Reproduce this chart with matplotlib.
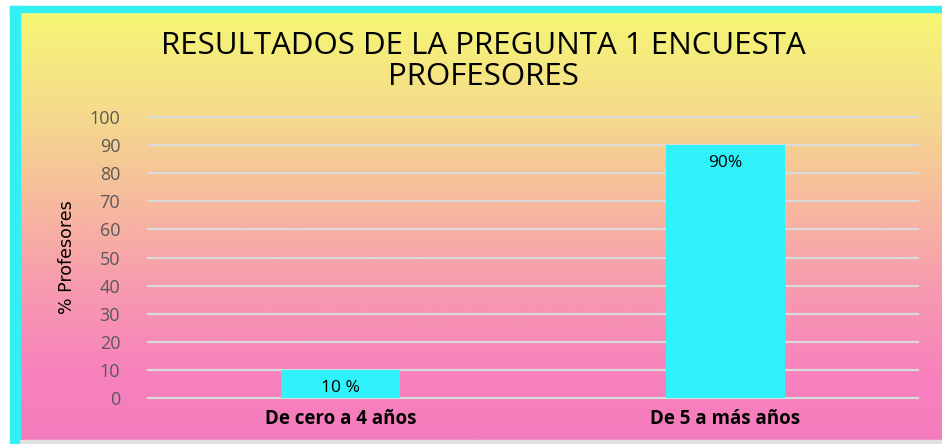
import numpy as np
import matplotlib
matplotlib.use("Agg")
import matplotlib.pyplot as plt
from matplotlib.colors import LinearSegmentedColormap
from matplotlib.patches import Rectangle

categorias = ["De cero a 4 años", "De 5 a más años"]
valores = [10, 90]
etiquetas = ["10 %", "90%"]
yticks = [0, 10, 20, 30, 40, 50, 60, 70, 80, 90, 100]

W, H = 942, 444
fig = plt.figure(figsize=(W / 100, H / 100), dpi=100)
fig.patch.set_facecolor("white")

# fondo degradado amarillo -> rosa
bg = fig.add_axes([0, 0, 1, 1])
bg.set_xlim(0, W)
bg.set_ylim(H, 0)
bg.axis("off")
cmap = LinearSegmentedColormap.from_list(
    "fondo",
    [(0.0, "#F6F773"), (0.25, "#F5D98E"), (0.45, "#F7B99E"),
     (0.65, "#F79AB0"), (0.85, "#F781BD"), (1.0, "#F67DBE")])
grad = np.linspace(0, 1, 256).reshape(-1, 1)
bg.imshow(grad, cmap=cmap, aspect="auto", extent=(20, W, 440, 12), zorder=0)
bg.add_patch(Rectangle((10, 6), 10, 438, color="#33F0F5", zorder=1))
bg.add_patch(Rectangle((10, 6), W - 10, 6, color="#33F0F5", zorder=1))
bg.add_patch(Rectangle((20, 440), W - 20, 4, color="#E0E0E0", zorder=1))

bg.text(483, 46, "RESULTADOS DE LA PREGUNTA 1 ENCUESTA", ha="center", va="center",
        fontsize=22.5, family="Open Sans", color="black")
bg.text(483, 77, "PROFESORES", ha="center", va="center",
        fontsize=22.5, family="Open Sans", color="black")

ax = fig.add_axes([148 / W, 46 / H, 770 / W, 281 / H])
ax.patch.set_alpha(0)
x = np.arange(len(categorias))
bars = ax.bar(x, valores, width=0.31, color="#30F2FA", zorder=3)
ax.set_xlim(-0.5, 1.5)
ax.set_ylim(0, 100)
ax.set_yticks(yticks)
ax.yaxis.grid(True, color="#DADADA", linewidth=1.6, zorder=1)
for gl in ax.get_ygridlines():
    gl.set_clip_on(False)
ax.set_axisbelow(True)
for s in ax.spines.values():
    s.set_visible(False)
ax.tick_params(length=0)
ax.tick_params(axis="y", pad=20, labelsize=13, labelcolor="#595959")
ax.set_yticklabels([str(t) for t in yticks], family="Open Sans")
ax.set_xticks(x)
ax.set_xticklabels(categorias, fontsize=13.5, fontweight="bold", family="Open Sans")
ax.tick_params(axis="x", pad=8)
ax.set_ylabel("% Profesores", fontsize=12.5, family="Liberation Sans Narrow", labelpad=10)

for b, lab in zip(bars, etiquetas):
    ax.text(b.get_x() + b.get_width() / 2, b.get_height() - 6.5, lab,
            ha="center", va="center", fontsize=12.5, family="Open Sans", color="black", zorder=4)

fig.savefig("out.png", dpi=100)
